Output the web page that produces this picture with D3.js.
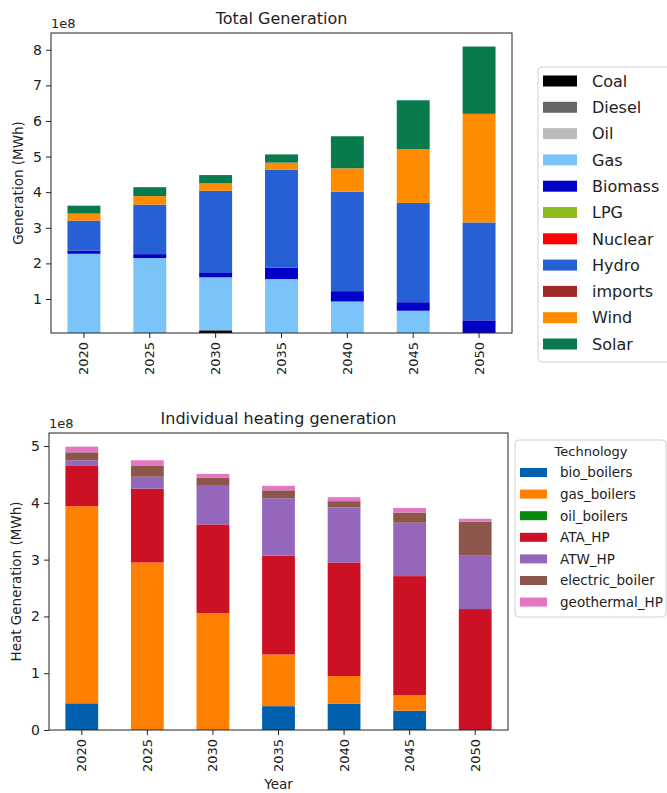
<!DOCTYPE html>
<html>
<head>
<meta charset="utf-8">
<script src="https://cdn.jsdelivr.net/npm/d3@7"></script>
<style>
  body { margin: 0; background: #fff; }
  svg { display: block; font-family: "DejaVu Sans", sans-serif; }
</style>
</head>
<body>
<svg id="chart" width="667" height="793"></svg>
<script>
// ---------- Data (values in units of 1e8 MWh) ----------
const years = ["2020", "2025", "2030", "2035", "2040", "2045", "2050"];

// Total generation by source
const genSources = ["Coal", "Diesel", "Oil", "Gas", "Biomass", "LPG", "Nuclear", "Hydro", "imports", "Wind", "Solar"];
const genColors  = ["#000000", "#666666", "#bbbbbb", "#7bc4fa", "#0000c8", "#8fbc1c", "#ff0000", "#2660d4", "#a12828", "#ff8c00", "#087a4c"];
const coal    = [0, 0, 0.12, 0, 0, 0, 0];
const diesel  = [0, 0, 0, 0, 0, 0, 0];
const oil     = [0, 0, 0, 0, 0, 0, 0];
const gas     = [2.27, 2.15, 1.49, 1.56, 0.93, 0.67, 0];
const biomass = [0.09, 0.11, 0.12, 0.32, 0.29, 0.24, 0.40];
const lpg     = [0, 0, 0, 0, 0, 0, 0];
const nuclear = [0, 0, 0, 0, 0, 0, 0];
const hydro   = [0.84, 1.39, 2.31, 2.75, 2.79, 2.79, 2.75];
const imports = [0, 0, 0, 0, 0, 0, 0];
const wind    = [0.20, 0.24, 0.21, 0.20, 0.66, 1.51, 3.05];
const solar   = [0.22, 0.25, 0.23, 0.23, 0.90, 1.37, 1.89];
const genSeries = [coal, diesel, oil, gas, biomass, lpg, nuclear, hydro, imports, wind, solar];
const genTicks = [1, 2, 3, 4, 5, 6, 7, 8];

// Individual heating generation by technology
const heatTechs  = ["bio_boilers", "gas_boilers", "oil_boilers", "ATA_HP", "ATW_HP", "electric_boiler", "geothermal_HP"];
const heatColors = ["#0060ad", "#ff7f00", "#0a8a0a", "#cc1124", "#9467bd", "#8c564b", "#e377c2"];
const bioBoilers     = [0.47, 0, 0, 0.42, 0.46, 0.34, 0];
const gasBoilers     = [3.47, 2.95, 2.06, 0.91, 0.49, 0.27, 0];
const oilBoilers     = [0, 0, 0, 0, 0, 0, 0];
const ataHP          = [0.71, 1.30, 1.56, 1.74, 2.00, 2.10, 2.13];
const atwHP          = [0.10, 0.21, 0.68, 1.01, 0.97, 0.94, 0.94];
const electricBoiler = [0.14, 0.19, 0.14, 0.14, 0.11, 0.18, 0.60];
const geothermalHP   = [0.10, 0.10, 0.07, 0.08, 0.07, 0.08, 0.05];
const heatSeries = [bioBoilers, gasBoilers, oilBoilers, ataHP, atwHP, electricBoiler, geothermalHP];
const heatTicks = [0, 1, 2, 3, 4, 5];

// ---------- Drawing ----------
const svg = d3.select("#chart");
const FONT = "DejaVu Sans, sans-serif";

function drawPanel(opts) {
  const { left, right, top, bottom, keys, series, colors, domain, ticks, title, ylabel, xlabel } = opts;
  const rows = years.map((y, i) => {
    const r = { year: y };
    keys.forEach((k, j) => r[k] = series[j][i]);
    return r;
  });
  const stacked = d3.stack().keys(keys)(rows);

  const x = d3.scaleBand().domain(years).range([left, right]).paddingInner(0.5).paddingOuter(0.25);
  const y = d3.scaleLinear().domain(domain).range([bottom, top]);

  const clipId = "clip" + Math.round(top);
  svg.append("clipPath").attr("id", clipId)
    .append("rect").attr("x", left).attr("y", top).attr("width", right - left).attr("height", bottom - top);

  const g = svg.append("g").attr("clip-path", `url(#${clipId})`);
  g.selectAll("g.layer").data(stacked).join("g")
    .attr("class", "layer")
    .attr("fill", (d, i) => colors[i])
    .selectAll("rect").data(d => d).join("rect")
    .attr("x", d => x(d.data.year))
    .attr("width", x.bandwidth())
    .attr("y", d => y(d[1]))
    .attr("height", d => Math.max(0, y(d[0]) - y(d[1])));

  // frame
  svg.append("rect").attr("x", left).attr("y", top).attr("width", right - left).attr("height", bottom - top)
    .attr("fill", "none").attr("stroke", "#222").attr("stroke-width", 1);

  // y axis
  const yAxis = svg.append("g").attr("transform", `translate(${left},0)`)
    .call(d3.axisLeft(y).tickValues(ticks).tickFormat(d3.format("d")).tickSize(5).tickPadding(4));
  yAxis.select(".domain").remove();
  yAxis.selectAll("line").attr("stroke", "#222");
  yAxis.selectAll("text").attr("font-size", 14).attr("font-family", FONT).attr("fill", "#222");

  // x axis
  const xAxis = svg.append("g").attr("transform", `translate(0,${bottom})`)
    .call(d3.axisBottom(x).tickSize(5).tickPadding(4));
  xAxis.select(".domain").remove();
  xAxis.selectAll("line").attr("stroke", "#222");
  xAxis.selectAll("text")
    .attr("font-size", 13).attr("font-family", FONT).attr("fill", "#222")
    .attr("transform", "rotate(-90)")
    .attr("text-anchor", "end").attr("dy", "0.35em").attr("dx", "0").attr("x", -9).attr("y", 0);

  // offset text
  svg.append("text").attr("x", left).attr("y", top - 5).attr("font-size", 13).attr("font-family", FONT)
    .attr("fill", "#222").text("1e8");

  // title
  svg.append("text").attr("x", (left + right) / 2).attr("y", top - 9).attr("text-anchor", "middle")
    .attr("font-size", 16).attr("font-family", FONT).attr("fill", "#222").text(title);

  // y label
  svg.append("text").attr("transform", `translate(${ylabel.x},${(top + bottom) / 2}) rotate(-90)`)
    .attr("text-anchor", "middle").attr("font-size", 13.5).attr("font-family", FONT).attr("fill", "#222")
    .text(ylabel.text);

  if (xlabel) {
    svg.append("text").attr("x", (left + right) / 2).attr("y", xlabel.y).attr("text-anchor", "middle")
      .attr("font-size", 13.5).attr("font-family", FONT).attr("fill", "#222").text(xlabel.text);
  }
}

drawPanel({
  left: 51, right: 512, top: 33, bottom: 333,
  keys: genSources, series: genSeries, colors: genColors,
  domain: [0.045, 8.47], ticks: genTicks,
  title: "Total Generation",
  ylabel: { x: 23, text: "Generation (MWh)" }
});

drawPanel({
  left: 49, right: 508, top: 433, bottom: 730,
  keys: heatTechs, series: heatSeries, colors: heatColors,
  domain: [0, 5.23], ticks: heatTicks,
  title: "Individual heating generation",
  ylabel: { x: 21, text: "Heat Generation (MWh)" },
  xlabel: { y: 789, text: "Year" }
});

// ---------- Legends ----------
// Top legend
const lg1 = svg.append("g");
lg1.append("rect").attr("x", 538).attr("y", 67).attr("width", 135).attr("height", 295).attr("rx", 4)
  .attr("fill", "#fff").attr("stroke", "#d0d0d0");
genSources.forEach((s, i) => {
  const cy = 81 + i * 26.3;
  lg1.append("rect").attr("x", 543).attr("y", cy - 5.5).attr("width", 34).attr("height", 11).attr("fill", genColors[i]);
  lg1.append("text").attr("x", 592).attr("y", cy).attr("dy", "0.36em").attr("font-size", 16)
    .attr("font-family", FONT).attr("fill", "#222").text(s);
});

// Bottom legend
const lg2 = svg.append("g");
lg2.append("rect").attr("x", 515).attr("y", 440).attr("width", 151).attr("height", 177).attr("rx", 4)
  .attr("fill", "#fff").attr("stroke", "#d0d0d0");
lg2.append("text").attr("x", 591).attr("y", 456).attr("text-anchor", "middle").attr("font-size", 13)
  .attr("font-family", FONT).attr("fill", "#222").text("Technology");
heatTechs.forEach((s, i) => {
  const cy = 472.5 + i * 21.6;
  lg2.append("rect").attr("x", 520).attr("y", cy - 4.5).attr("width", 27).attr("height", 9).attr("fill", heatColors[i]);
  lg2.append("text").attr("x", 560).attr("y", cy).attr("dy", "0.36em").attr("font-size", 13.5)
    .attr("font-family", FONT).attr("fill", "#222").text(s);
});
</script>
</body>
</html>
